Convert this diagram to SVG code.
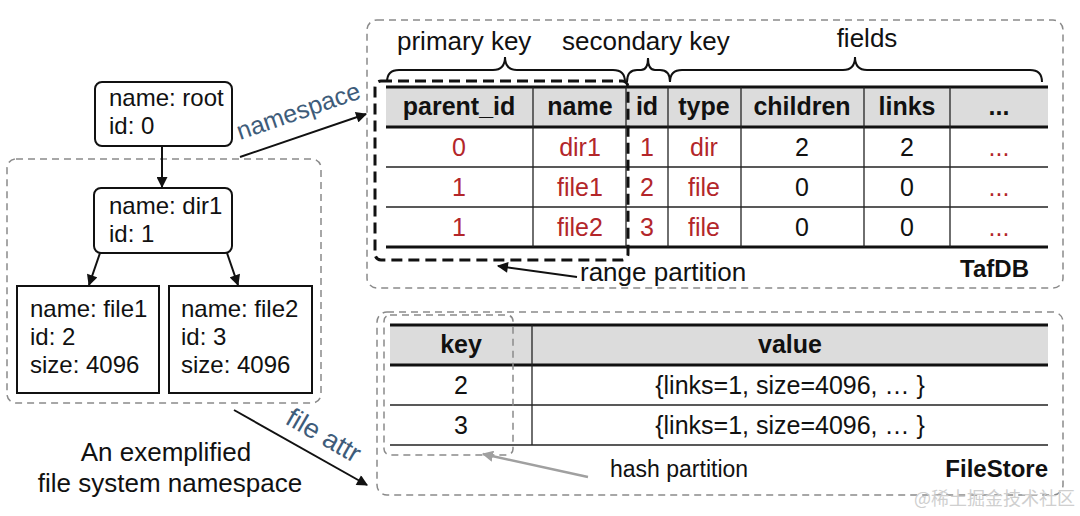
<svg xmlns="http://www.w3.org/2000/svg" width="1080" height="516" viewBox="0 0 1080 516">
<defs>
<style>
text{font-family:"Liberation Sans",Arial,Helvetica,sans-serif;fill:#111}
.nt{font-size:24px}
.hd{font-size:25px;font-weight:bold;text-anchor:middle}
.cell{font-size:25px;text-anchor:middle}
.red{fill:#b3262a}
.lbl{font-size:25px;fill:#3e5c7a}
.cont{fill:none;stroke:#8a8a8a;stroke-width:1.5;stroke-dasharray:7 5}
.box{fill:#fff;stroke:#111;stroke-width:2}
.thick{stroke:#111;stroke-width:3}
.thin{stroke:#222;stroke-width:1.3}
.conn{stroke:#111;stroke-width:2;fill:none}
.brace{fill:none;stroke:#111;stroke-width:2}
.ttl{font-size:24px;font-weight:bold;text-anchor:end}
</style>
<marker id="ah" viewBox="0 0 10 10" refX="9" refY="5" markerWidth="6" markerHeight="5.5" orient="auto" markerUnits="strokeWidth">
<path d="M0,0 L10,5 L0,10 z" fill="#111"/>
</marker>
<marker id="ahg" viewBox="0 0 10 10" refX="9" refY="5" markerWidth="4.5" markerHeight="4.5" orient="auto" markerUnits="strokeWidth">
<path d="M0,0 L10,5 L0,10 z" fill="#a0a0a0"/>
</marker>
</defs>
<rect width="1080" height="516" fill="#fff"/>

<!-- left namespace container -->
<g id="namespace-container">
<rect class="cont" x="7" y="159" width="314" height="244" rx="9"/>
</g>

<g id="node-root">
<rect class="box" x="95" y="82" width="137" height="64" rx="7"/>
<text class="nt" x="109" y="106">name: root</text>
<text class="nt" x="109" y="134">id: 0</text>
</g>
<g id="node-dir1">
<rect class="box" x="94" y="188" width="138" height="65" rx="7"/>
<text class="nt" x="109" y="214">name: dir1</text>
<text class="nt" x="109" y="242">id: 1</text>
</g>
<g id="node-file1">
<rect class="box" x="17" y="286" width="142" height="107"/>
<text class="nt" x="30" y="317">name: file1</text>
<text class="nt" x="30" y="345">id: 2</text>
<text class="nt" x="30" y="373">size: 4096</text>
</g>
<g id="node-file2">
<rect class="box" x="169" y="286" width="143" height="107"/>
<text class="nt" x="181" y="317">name: file2</text>
<text class="nt" x="181" y="345">id: 3</text>
<text class="nt" x="181" y="373">size: 4096</text>
</g>
<g id="caption">
<text x="166" y="461" font-size="26" text-anchor="middle">An exemplified</text>
<text x="170" y="492" font-size="26" text-anchor="middle">file system namespace</text>
</g>

<!-- TafDB -->
<g id="tafdb">
<rect class="cont" x="367" y="20" width="696" height="268" rx="10"/>
<rect x="386" y="87" width="662" height="40" fill="#dcdcdc"/>
<line class="thick" x1="386" y1="87" x2="1048" y2="87"/>
<line class="thick" x1="386" y1="127" x2="1048" y2="127"/>
<line class="thin" x1="386" y1="167" x2="1048" y2="167"/>
<line class="thin" x1="386" y1="207" x2="1048" y2="207"/>
<line class="thick" x1="386" y1="247" x2="1048" y2="247"/>
<line class="thin" x1="533" y1="87" x2="533" y2="247"/>
<line class="thin" x1="626" y1="87" x2="626" y2="247"/>
<line class="thin" x1="668" y1="87" x2="668" y2="247"/>
<line class="thin" x1="741" y1="87" x2="741" y2="247"/>
<line class="thin" x1="864" y1="87" x2="864" y2="247"/>
<line class="thin" x1="950" y1="87" x2="950" y2="247"/>
<text class="hd" x="459" y="115">parent_id</text>
<text class="hd" x="580" y="115">name</text>
<text class="hd" x="647" y="115">id</text>
<text class="hd" x="704" y="115">type</text>
<text class="hd" x="802" y="115">children</text>
<text class="hd" x="907" y="115">links</text>
<text class="hd" x="999" y="115">...</text>
<text class="cell red" x="459" y="156">0</text>
<text class="cell red" x="580" y="156">dir1</text>
<text class="cell red" x="647" y="156">1</text>
<text class="cell red" x="704" y="156">dir</text>
<text class="cell" x="802" y="156">2</text>
<text class="cell" x="907" y="156">2</text>
<text class="cell red" x="999" y="156">...</text>
<text class="cell red" x="459" y="196">1</text>
<text class="cell red" x="580" y="196">file1</text>
<text class="cell red" x="647" y="196">2</text>
<text class="cell red" x="704" y="196">file</text>
<text class="cell" x="802" y="196">0</text>
<text class="cell" x="907" y="196">0</text>
<text class="cell red" x="999" y="196">...</text>
<text class="cell red" x="459" y="236">1</text>
<text class="cell red" x="580" y="236">file2</text>
<text class="cell red" x="647" y="236">3</text>
<text class="cell red" x="704" y="236">file</text>
<text class="cell" x="802" y="236">0</text>
<text class="cell" x="907" y="236">0</text>
<text class="cell red" x="999" y="236">...</text>
<rect x="375" y="81" width="253" height="179" rx="6" fill="none" stroke="#111" stroke-width="3" stroke-dasharray="11 6"/>
<path class="brace" d="M387,82 Q387,70 399,70 L493,70 Q505,70 505,57 Q505,70 517,70 L613,70 Q625,70 625,82"/>
<path class="brace" d="M627,82 Q627,70 637,70 L641,70 Q648,70 648,58 Q648,70 655,70 L660,70 Q670,70 670,82"/>
<path class="brace" d="M670,82 Q670,70 682,70 L843,70 Q855,70 855,57 Q855,70 867,70 L1030,70 Q1042,70 1042,82"/>
<text x="397" y="50" font-size="26">primary key</text>
<text x="562" y="50" font-size="26">secondary key</text>
<text x="867" y="47" font-size="26" text-anchor="middle">fields</text>
<text x="580" y="281" font-size="26">range partition</text>
<text class="ttl" x="1029" y="277">TafDB</text>
</g>

<!-- FileStore -->
<g id="filestore">
<rect class="cont" x="377" y="312" width="686" height="183" rx="10"/>
<rect x="390" y="325" width="658" height="40" fill="#dcdcdc"/>
<line class="thick" x1="390" y1="325" x2="1048" y2="325"/>
<line class="thick" x1="390" y1="365" x2="1048" y2="365"/>
<line class="thin" x1="390" y1="405" x2="1048" y2="405"/>
<line class="thin" x1="390" y1="445" x2="1048" y2="445"/>
<line class="thin" x1="532" y1="325" x2="532" y2="445"/>
<text class="hd" x="461" y="353">key</text>
<text class="hd" x="790" y="353">value</text>
<text class="cell" x="461" y="394">2</text>
<text class="cell" x="790" y="394">{links=1, size=4096, … }</text>
<text class="cell" x="461" y="434">3</text>
<text class="cell" x="790" y="434">{links=1, size=4096, … }</text>
<rect x="384" y="315" width="129" height="140" rx="6" fill="none" stroke="#8a8a8a" stroke-width="1.5" stroke-dasharray="7 5"/>
<text x="610" y="477" font-size="23">hash partition</text>
<text class="ttl" x="1048" y="477">FileStore</text>
</g>

<!-- connectors -->
<g id="connectors">
<line class="conn" x1="162" y1="146" x2="162" y2="187" marker-end="url(#ah)"/>
<line class="conn" x1="100" y1="253" x2="89" y2="285" marker-end="url(#ah)"/>
<line class="conn" x1="227" y1="253" x2="238" y2="285" marker-end="url(#ah)"/>
<line class="conn" x1="240" y1="157" x2="366" y2="114" marker-end="url(#ah)"/>
<text class="lbl" x="240" y="140" transform="rotate(-19 240 140)">namespace</text>
<line class="conn" x1="234" y1="410" x2="367" y2="485" marker-end="url(#ah)"/>
<text class="lbl" x="284" y="423" font-size="27" transform="rotate(30 284 423)" style="font-size:27px">file attr</text>
<line class="conn" x1="577" y1="277" x2="498" y2="266" marker-end="url(#ah)"/>
<line x1="588" y1="477" x2="483" y2="454" stroke="#a0a0a0" stroke-width="2.5" marker-end="url(#ahg)"/>
</g>

<text x="1075" y="505" font-size="18" text-anchor="end" style="font-family:'Noto Sans CJK SC',sans-serif;fill:#cfcfcf">@稀土掘金技术社区</text>
</svg>
